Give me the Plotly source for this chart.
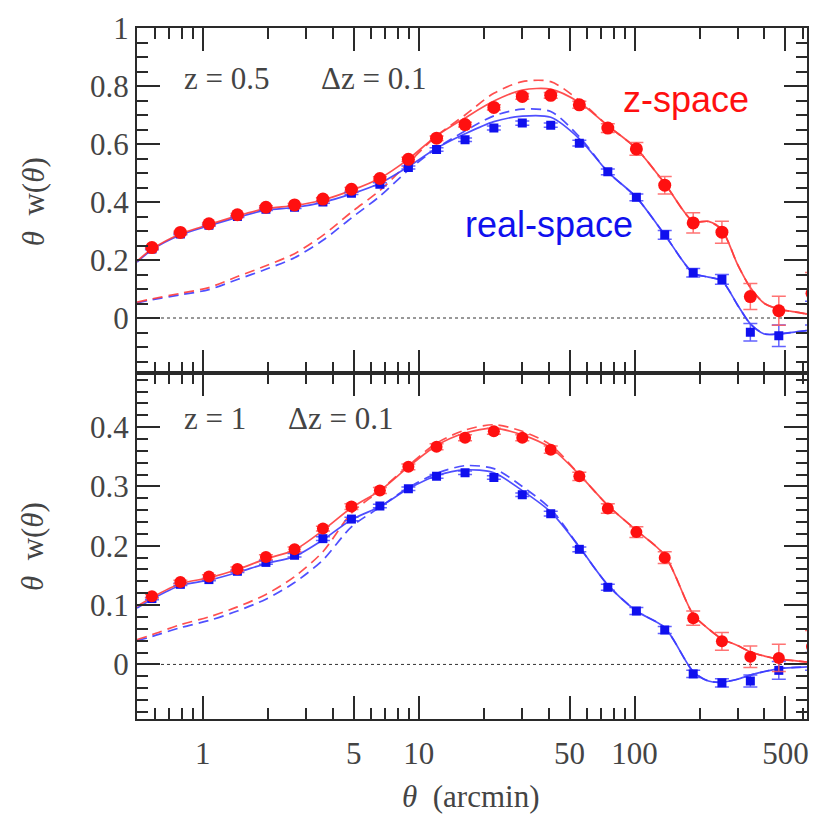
import plotly.graph_objects as go

# ---------------- data ----------------
theta = [0.581, 0.787, 1.067, 1.446, 1.96, 2.66, 3.60, 4.88, 6.61, 8.96, 12.1, 16.4,
         22.3, 30.2, 40.9, 55.5, 75.2, 102, 138, 187, 254, 344, 466, 664]

# z = 0.5 panel
z05_zspace = [0.243, 0.295, 0.325, 0.356, 0.382, 0.390, 0.410, 0.444, 0.481, 0.547, 0.620, 0.667,
              0.726, 0.764, 0.768, 0.735, 0.655, 0.583, 0.458, 0.328, 0.296, 0.074, 0.025, 0.085]
z05_zspace_err = [0.004, 0.004, 0.004, 0.004, 0.005, 0.005, 0.005, 0.006, 0.006, 0.007, 0.008, 0.008,
                  0.009, 0.010, 0.010, 0.012, 0.015, 0.022, 0.030, 0.035, 0.038, 0.045, 0.050, 0.072]
z05_real = [0.238, 0.290, 0.320, 0.350, 0.375, 0.382, 0.400, 0.430, 0.461, 0.519, 0.581, 0.615,
            0.655, 0.672, 0.665, 0.603, 0.504, 0.416, 0.287, 0.156, 0.133, -0.049, -0.061, 0.017]
z05_real_err = [0.003, 0.003, 0.003, 0.003, 0.004, 0.004, 0.004, 0.004, 0.005, 0.005, 0.006, 0.006,
                0.007, 0.007, 0.007, 0.010, 0.010, 0.012, 0.015, 0.015, 0.017, 0.030, 0.037, 0.041]

# z = 1 panel
z1_zspace = [0.115, 0.139, 0.148, 0.161, 0.181, 0.194, 0.229, 0.266, 0.293, 0.333, 0.367, 0.382,
             0.393, 0.382, 0.362, 0.317, 0.263, 0.223, 0.180, 0.078, 0.039, 0.013, 0.011, 0.030]
z1_zspace_err = [0.003, 0.003, 0.003, 0.003, 0.004, 0.004, 0.004, 0.005, 0.005, 0.005, 0.005, 0.005,
                 0.005, 0.005, 0.006, 0.007, 0.008, 0.009, 0.010, 0.012, 0.015, 0.018, 0.023, 0.027]
z1_real = [0.111, 0.135, 0.143, 0.157, 0.172, 0.184, 0.212, 0.245, 0.267, 0.296, 0.317, 0.323,
           0.315, 0.286, 0.254, 0.194, 0.130, 0.090, 0.058, -0.016, -0.031, -0.028, -0.010, 0.005]
z1_real_err = [0.002, 0.002, 0.002, 0.002, 0.003, 0.003, 0.003, 0.003, 0.003, 0.003, 0.003, 0.003,
               0.003, 0.003, 0.004, 0.004, 0.005, 0.006, 0.006, 0.006, 0.007, 0.010, 0.015, 0.015]

# model curves
theta_model = [0.496, 0.581, 0.787, 1.067, 1.446, 1.96, 2.66, 3.60, 4.88, 6.61, 8.96, 12.1, 16.4,
               22.3, 30.2, 40.9, 55.5, 75.2, 102, 138, 187, 220, 254, 300, 344, 400, 466, 560, 630]
z05_zspace_model = [0.196, 0.238, 0.290, 0.322, 0.352, 0.377, 0.388, 0.407, 0.440, 0.482, 0.548, 0.628, 0.690,
                    0.748, 0.786, 0.789, 0.743, 0.663, 0.584, 0.464, 0.333, 0.333, 0.304, 0.185, 0.105,
                    0.050, 0.031, 0.020, 0.014]
z05_zspace_lin = [0.055, 0.066, 0.085, 0.105, 0.143, 0.180, 0.222, 0.285, 0.365, 0.440, 0.535, 0.628, 0.700,
                  0.775, 0.815, 0.815, 0.750, 0.663, 0.584, 0.464, 0.333, 0.333, 0.304, 0.185, 0.105,
                  0.050, 0.031, 0.020, 0.014]
z05_real_model = [0.193, 0.235, 0.286, 0.318, 0.347, 0.372, 0.381, 0.399, 0.428, 0.465, 0.522, 0.585, 0.635,
                  0.677, 0.696, 0.692, 0.618, 0.504, 0.416, 0.287, 0.155, 0.141, 0.128, 0.045, -0.020,
                  -0.055, -0.055, -0.048, -0.043]
z05_real_lin = [0.052, 0.063, 0.080, 0.098, 0.133, 0.168, 0.208, 0.268, 0.345, 0.420, 0.510, 0.585, 0.645,
                0.697, 0.720, 0.712, 0.625, 0.504, 0.416, 0.287, 0.155, 0.141, 0.128, 0.045, -0.020,
                -0.055, -0.055, -0.048, -0.043]
z1_zspace_model = [0.098, 0.113, 0.136, 0.146, 0.160, 0.178, 0.193, 0.226, 0.264, 0.293, 0.333, 0.369, 0.390,
                   0.398, 0.387, 0.365, 0.320, 0.268, 0.226, 0.184, 0.084, 0.060, 0.043, 0.032, 0.021,
                   0.014, 0.009, 0.006, 0.004]
z1_zspace_lin = [0.042, 0.050, 0.067, 0.080, 0.097, 0.118, 0.148, 0.190, 0.255, 0.293, 0.335, 0.373, 0.395,
                 0.404, 0.393, 0.370, 0.320, 0.268, 0.226, 0.184, 0.084, 0.060, 0.043, 0.032, 0.021,
                 0.014, 0.009, 0.006, 0.004]
z1_real_model = [0.095, 0.110, 0.133, 0.142, 0.155, 0.170, 0.182, 0.210, 0.244, 0.266, 0.296, 0.318, 0.328,
                 0.323, 0.293, 0.257, 0.198, 0.134, 0.090, 0.062, -0.012, -0.028, -0.030, -0.025, -0.018,
                 -0.012, -0.007, -0.005, -0.004]
z1_real_lin = [0.040, 0.047, 0.062, 0.074, 0.090, 0.110, 0.138, 0.176, 0.232, 0.265, 0.298, 0.322, 0.335,
               0.330, 0.300, 0.262, 0.198, 0.134, 0.090, 0.062, -0.012, -0.028, -0.030, -0.025, -0.018,
               -0.012, -0.007, -0.005, -0.004]

x_major = [1, 5, 10, 50, 100, 500]
x_major_text = ["1", "5", "10", "50", "100", "500"]
x_minor = [0.5, 0.6, 0.7, 0.8, 0.9, 2, 3, 4, 6, 7, 8, 9, 20, 30, 40, 60, 70, 80, 90,
           200, 300, 400, 600]
y_top_ticks = [0, 0.2, 0.4, 0.6, 0.8, 1]
y_top_text = ["0", "0.2", "0.4", "0.6", "0.8", "1"]
y_bot_ticks = [0, 0.1, 0.2, 0.3, 0.4]
y_bot_text = ["0", "0.1", "0.2", "0.3", "0.4"]

# ---------------- style ----------------
RED = "#ff1010"
BLUE = "#1010ee"
RED_L = "rgba(255,60,60,0.9)"
BLUE_L = "rgba(60,60,255,0.9)"
RED_E = "rgba(255,90,90,0.85)"
BLUE_E = "rgba(70,70,255,0.85)"
AX = "#2a2a2a"
TXT = "#444444"
SERIF = "Liberation Serif"

fig = go.Figure()


def add_panel(xa, ya, zs, zs_err, rs, rs_err, zs_mod, zs_lin, rs_mod, rs_lin, rsize, bsize):
    for yv, col, dash in [(rs_lin, BLUE_L, "10px,6px"), (zs_lin, RED_L, "10px,6px"),
                          (rs_mod, BLUE_L, "solid"), (zs_mod, RED_L, "solid")]:
        fig.add_trace(go.Scatter(x=theta_model, y=yv, xaxis=xa, yaxis=ya, mode="lines",
                                 line=dict(color=col, width=1.7, dash=dash, shape="spline", smoothing=0.8),
                                 showlegend=False, hoverinfo="skip"))
    fig.add_trace(go.Scatter(x=theta, y=rs, xaxis=xa, yaxis=ya, mode="markers",
                             marker=dict(symbol="square", size=bsize, color=BLUE),
                             error_y=dict(type="data", array=rs_err, color=BLUE_E, thickness=1.5, width=7),
                             showlegend=False))
    fig.add_trace(go.Scatter(x=theta, y=zs, xaxis=xa, yaxis=ya, mode="markers",
                             marker=dict(symbol="circle", size=rsize, color=RED),
                             error_y=dict(type="data", array=zs_err, color=RED_E, thickness=1.5, width=7),
                             showlegend=False))


add_panel("x2", "y2", z05_zspace, z05_zspace_err, z05_real, z05_real_err,
          z05_zspace_model, z05_zspace_lin, z05_real_model, z05_real_lin, 13, 9)
add_panel("x", "y", z1_zspace, z1_zspace_err, z1_real, z1_real_err,
          z1_zspace_model, z1_zspace_lin, z1_real_model, z1_real_lin, 12, 9)

xcommon = dict(type="log", range=[-0.305, 2.799], tickmode="array", tickvals=x_major,
               ticktext=x_major_text, ticks="inside", ticklen=23, tickwidth=1.5, tickcolor=AX,
               showline=True, linewidth=2, linecolor=AX, mirror="allticks", showgrid=False,
               zeroline=False, ticklabelstandoff=6,
               minor=dict(tickmode="array", tickvals=x_minor, ticks="inside", ticklen=11,
                          tickwidth=1.5, tickcolor=AX, showgrid=False),
               tickfont=dict(family=SERIF, size=31, color=TXT))
ycommon = dict(ticks="inside", ticklen=23, tickwidth=1.5, tickcolor=AX, showline=True,
               linewidth=2, linecolor=AX, mirror="allticks", showgrid=False, zeroline=False,
               tickmode="array", tickfont=dict(family=SERIF, size=31, color=TXT))

H = 0.5014
fig.update_layout(
    width=820, height=815,
    margin=dict(l=137, r=11, t=21, b=96),
    paper_bgcolor="white", plot_bgcolor="white",
    xaxis=dict(**xcommon, anchor="y", domain=[0, 1]),
    xaxis2=dict(**xcommon, anchor="y2", domain=[0, 1], matches="x", showticklabels=False),
    yaxis=dict(**ycommon, anchor="x", domain=[0, H], range=[-0.092, 0.492],
               tickvals=y_bot_ticks, ticktext=y_bot_text,
               minor=dict(tickmode="linear", tick0=0, dtick=0.02, ticks="inside", ticklen=11,
                          tickwidth=1.5, tickcolor=AX)),
    yaxis2=dict(**ycommon, anchor="x2", domain=[H, 1], range=[-0.188, 1.0],
                tickvals=y_top_ticks, ticktext=y_top_text,
                minor=dict(tickmode="linear", tick0=0, dtick=0.05, ticks="inside", ticklen=11,
                           tickwidth=1.5, tickcolor=AX)),
)

# dotted zero lines
for yref in ["y", "y2"]:
    fig.add_shape(type="line", xref="paper", x0=0, x1=1, yref=yref, y0=0, y1=0,
                  line=dict(color="#333", width=1, dash="dot"), layer="below")

ann_font = dict(family=SERIF, size=31, color=TXT)
annots = [
    dict(text="z = 0.5", x=0.067, y=0.927),
    dict(text="Δz = 0.1", x=0.271, y=0.927),
    dict(text="z = 1", x=0.067, y=0.4355),
    dict(text="Δz = 0.1", x=0.223, y=0.4355),
]
for a in annots:
    fig.add_annotation(xref="paper", yref="paper", xanchor="left", yanchor="middle",
                       showarrow=False, font=ann_font, **a)

fig.add_annotation(text="z-space", xref="paper", yref="paper", x=0.820, y=0.897,
                   xanchor="center", yanchor="middle",
                   showarrow=False, font=dict(family="Liberation Sans", size=36, color=RED))
fig.add_annotation(text="real-space", xref="paper", yref="paper", x=0.615, y=0.715,
                   xanchor="center", yanchor="middle",
                   showarrow=False, font=dict(family="Liberation Sans", size=36, color=BLUE))

for yy in [0.748, 0.249]:
    fig.add_annotation(text="<i>θ</i>  w(<i>θ</i>)", xref="paper", yref="paper", x=-0.155, y=yy,
                       textangle=-90, showarrow=False, xanchor="center", yanchor="middle",
                       font=ann_font)
fig.add_annotation(text="<i>θ</i>  (arcmin)", xref="paper", yref="paper", x=0.4985, y=-0.112,
                   showarrow=False, xanchor="center", yanchor="middle", font=ann_font)

fig.write_html("out.html")
